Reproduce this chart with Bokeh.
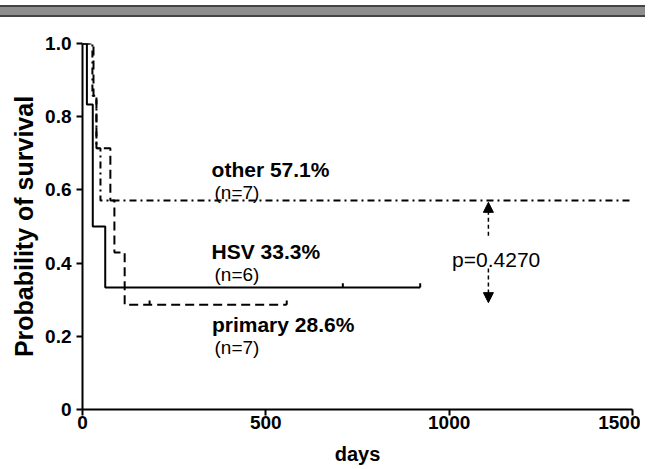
from bokeh.plotting import figure
from bokeh.layouts import column
from bokeh.models import Range1d, FixedTicker, Arrow, NormalHead, Div
from bokeh.core.properties import value
from bokeh.embed import file_html
from bokeh.resources import INLINE

# ---- data ----
hsv_t = [0, 12, 28, 62, 921]
hsv_s = [1.0, 0.833, 0.5, 0.333, 0.333]
hsv_censor_t = [710, 921]

prim_t = [0, 30, 38, 76, 87, 115, 557]
prim_s = [1.0, 0.857, 0.714, 0.571, 0.429, 0.286, 0.286]
prim_censor_t = [183, 557]

other_t = [0, 27, 38, 49, 1500]
other_s = [1.0, 0.857, 0.714, 0.571, 0.571]

x_ticks = [0, 500, 1000, 1500]
x_tick_labels = ["0", "500", "1000", "1500"]
y_ticks = [0, 0.2, 0.4, 0.6, 0.8, 1.0]
y_tick_labels = ["0", "0.2", "0.4", "0.6", "0.8", "1.0"]

label_main = ["other 57.1%", "HSV 33.3%", "primary 28.6%"]
label_main_x = [352, 352, 353]
label_main_y = [0.656, 0.432, 0.232]
label_n = ["(n=7)", "(n=6)", "(n=7)"]
label_n_x = [360, 360, 360]
label_n_y = [0.593, 0.368, 0.169]

p_text = "p=0.4270"
p_x, p_y = 1008, 0.41
arrow_x = 1107
arrow_up = (0.475, 0.566)
arrow_down = (0.385, 0.292)

FONT = value("Liberation Sans")

# scan header bar
bar = Div(text="", width=656, height=12,
          styles={"background-color": "#8e8e8e", "border-top": "2px solid #444",
                  "border-bottom": "2px solid #444", "margin-left": "-8px",
                  "box-sizing": "border-box"})

p = figure(width=640, height=449, x_range=Range1d(0, 1500), y_range=Range1d(0, 1.0),
           output_backend="svg", toolbar_location=None,
           min_border_left=82, min_border_right=8, min_border_top=21, min_border_bottom=62)
p.xgrid.visible = False
p.ygrid.visible = False
p.outline_line_color = None

for ax in (p.xaxis[0], p.yaxis[0]):
    ax.axis_line_width = 2
    ax.axis_line_color = "black"
    ax.major_tick_line_width = 2
    ax.major_tick_line_color = "black"
    ax.major_tick_in = 0
    ax.major_tick_out = 6
    ax.minor_tick_line_color = None
    ax.major_label_text_font = "Liberation Sans"
    ax.major_label_text_font_style = "bold"
    ax.major_label_text_font_size = "19px"
    ax.major_label_text_color = "black"
    ax.axis_label_text_font = "Liberation Sans"
    ax.axis_label_text_font_style = "bold"
    ax.axis_label_text_color = "black"

p.xaxis.ticker = FixedTicker(ticks=x_ticks)
p.xaxis.major_label_overrides = {t: l for t, l in zip(x_ticks, x_tick_labels)}
p.yaxis.ticker = FixedTicker(ticks=y_ticks)
p.yaxis.major_label_overrides = {t: l for t, l in zip(y_ticks, y_tick_labels)}
p.xaxis.axis_label = "days"
p.xaxis.axis_label_text_font_size = "20px"
p.xaxis.axis_label_standoff = 11
p.xaxis.major_label_standoff = 0
p.yaxis.axis_label = "Probability of survival"
p.yaxis.axis_label_text_font_size = "25px"
p.yaxis.axis_label_standoff = 4
p.yaxis.major_label_standoff = 5

# curves
p.step(other_t, other_s, mode="after", line_color="black", line_width=2, line_dash="7 4 2 4")
p.step(prim_t, prim_s, mode="after", line_color="black", line_width=2, line_dash="9 5")
p.step(hsv_t, hsv_s, mode="after", line_color="black", line_width=2)

# censor marks
hsv_cy = [hsv_s[-1]] * len(hsv_censor_t)
prim_cy = [prim_s[-1]] * len(prim_censor_t)
p.segment(x0=hsv_censor_t, y0=hsv_cy, x1=hsv_censor_t, y1=[v + 0.012 for v in hsv_cy],
          line_color="black", line_width=2)
p.segment(x0=prim_censor_t, y0=prim_cy, x1=prim_censor_t, y1=[v + 0.012 for v in prim_cy],
          line_color="black", line_width=2)

# labels
p.text(x=label_main_x, y=label_main_y, text=label_main, text_font=FONT,
       text_font_style="bold", text_font_size="21px", text_color="black",
       text_baseline="alphabetic")
p.text(x=label_n_x, y=label_n_y, text=label_n, text_font=FONT,
       text_font_size="19px", text_color="black", text_baseline="alphabetic")
p.text(x=[p_x], y=[p_y], text=[p_text], text_font=FONT,
       text_font_size="21px", text_color="black", text_baseline="alphabetic")

# p-value arrows
p.add_layout(Arrow(x_start=arrow_x, y_start=arrow_up[0], x_end=arrow_x, y_end=arrow_up[1],
                   end=NormalHead(size=10, fill_color="black", line_color="black"),
                   line_dash="4 3", line_width=1.5, line_color="black"))
p.add_layout(Arrow(x_start=arrow_x, y_start=arrow_down[0], x_end=arrow_x, y_end=arrow_down[1],
                   end=NormalHead(size=10, fill_color="black", line_color="black"),
                   line_dash="4 3", line_width=1.5, line_color="black"))

layout = column(bar, p, spacing=0, styles={"margin-bottom": "-8px"})
open("out.html", "w").write(file_html(layout, INLINE))
